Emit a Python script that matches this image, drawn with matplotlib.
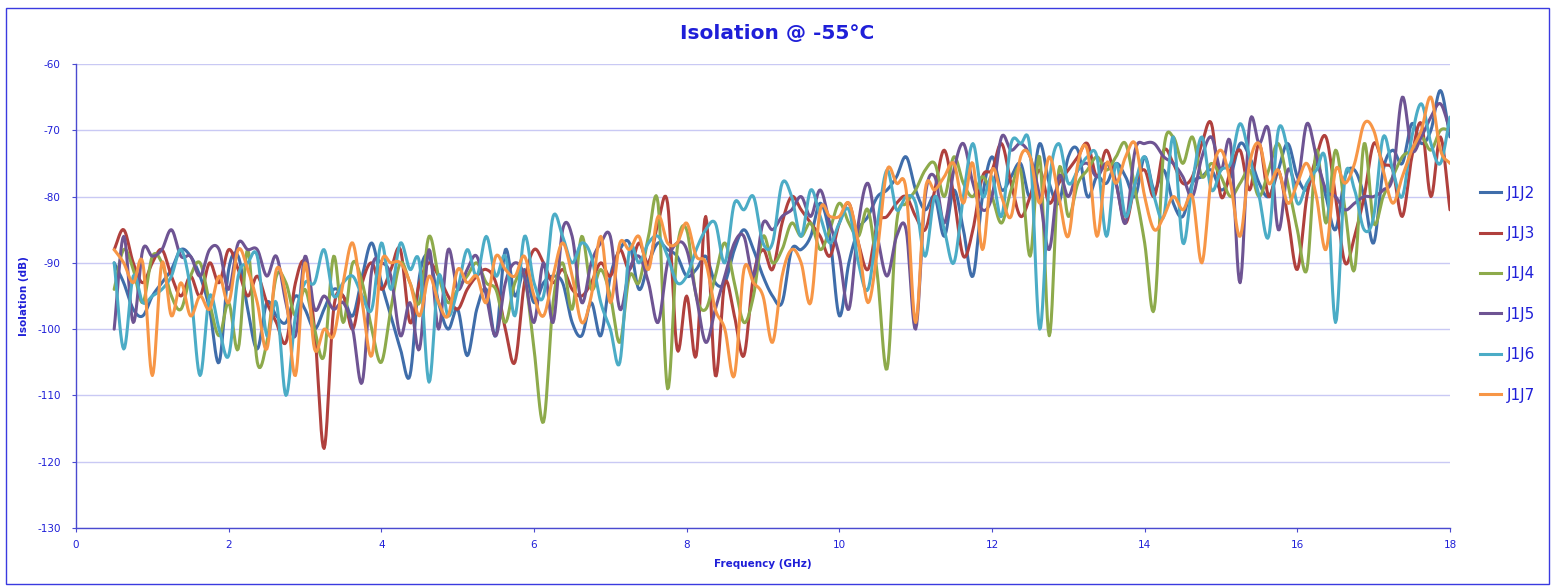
import numpy as np
import matplotlib
matplotlib.use('Agg')
import matplotlib.pyplot as plt
from matplotlib.lines import Line2D
from matplotlib.patches import Rectangle

plt.rcParams['axes.unicode_minus'] = False

# frequency points: 0.5 .. 18.0 GHz, 0.125 GHz step (8 per row)
freq = [0.5 + 0.125 * i for i in range(141)]

j1j2 = [-90, -93, -97, -98, -95, -93, -91, -88,
        -89, -92, -97, -105, -91, -89, -97, -103,
        -96, -98, -99, -95, -97, -100, -97, -94,
        -95, -98, -92, -87, -93, -98, -103, -107,
        -92, -89, -96, -100, -97, -104, -97, -94,
        -101, -88, -95, -91, -96, -93, -92, -93,
        -99, -101, -96, -101, -92, -88, -87, -94,
        -90, -87, -88, -89, -92, -91, -89, -93,
        -93, -88, -85, -88, -92, -95, -96, -88,
        -88, -86, -81, -86, -98, -90, -85, -83,
        -80, -79, -77, -74, -79, -82, -80, -86,
        -79, -85, -92, -80, -74, -79, -77, -75,
        -80, -72, -78, -81, -74, -73, -80, -77,
        -78, -75, -77, -80, -74, -79, -76, -81,
        -83, -78, -77, -76, -79, -77, -72, -74,
        -78, -80, -76, -72, -77, -79, -75, -80,
        -85, -77, -76, -80, -87, -76, -73, -75,
        -69, -72, -70, -64, -71]

j1j3 = [-88, -85, -90, -93, -90, -88, -92, -95,
        -92, -95, -90, -93, -88, -91, -95, -92,
        -96, -99, -102, -93, -90, -100, -118, -97,
        -95, -100, -93, -90, -94, -91, -88, -99,
        -93, -90, -92, -95, -97, -94, -92, -91,
        -93, -100, -105, -93, -88, -90, -93, -91,
        -94, -95, -93, -90, -92, -88, -91, -87,
        -90, -84, -81, -103, -95, -104, -83, -107,
        -93, -98, -104, -92, -88, -91, -84, -80,
        -82, -84, -86, -89, -84, -81, -87, -91,
        -84, -83, -81, -80, -83, -85, -79, -73,
        -80, -89, -85, -77, -76, -72, -78, -83,
        -80, -76, -81, -78, -76, -74, -72, -77,
        -73, -78, -84, -78, -76, -80, -73, -75,
        -78, -77, -72, -69, -80, -76, -73, -79,
        -72, -80, -76, -83, -91, -80, -74, -71,
        -80, -90, -86, -80, -72, -75, -76, -83,
        -74, -69, -80, -71, -82]

j1j4 = [-94, -88, -91, -96, -89, -90, -95, -97,
        -92, -90, -96, -101, -96, -103, -88, -105,
        -102, -92, -93, -98, -94, -100, -104, -89,
        -99, -90, -93, -100, -105, -97, -90, -93,
        -96, -86, -92, -96, -94, -92, -90, -93,
        -94, -99, -93, -92, -103, -114, -96, -90,
        -97, -86, -94, -91, -95, -102, -92, -93,
        -86, -81, -109, -88, -85, -95, -97, -92,
        -87, -93, -99, -95, -86, -90, -88, -84,
        -86, -84, -88, -85, -81, -84, -86, -82,
        -92, -106, -84, -81, -79, -76, -75, -80,
        -74, -78, -80, -77, -80, -84, -79, -76,
        -89, -74, -101, -76, -83, -78, -76, -74,
        -76, -74, -72, -79, -87, -97, -73, -71,
        -75, -71, -77, -75, -77, -80, -78, -76,
        -80, -76, -72, -78, -85, -91, -73, -84,
        -73, -82, -91, -72, -84, -80, -77, -74,
        -73, -71, -73, -70, -70]

j1j5 = [-100, -86, -99, -88, -89, -88, -85, -89,
        -89, -92, -88, -88, -94, -87, -88, -88,
        -92, -89, -96, -101, -89, -97, -95, -97,
        -96, -100, -108, -91, -90, -92, -101, -96,
        -103, -88, -100, -88, -94, -91, -89, -95,
        -101, -93, -90, -92, -99, -90, -99, -85,
        -86, -96, -90, -87, -86, -97, -91, -89,
        -93, -99, -90, -87, -88, -95, -102, -97,
        -92, -87, -86, -92, -84, -85, -83, -82,
        -80, -83, -79, -84, -89, -97, -84, -78,
        -86, -92, -86, -85, -100, -80, -77, -84,
        -76, -72, -78, -82, -80, -71, -73, -72,
        -74, -80, -88, -77, -80, -76, -75, -77,
        -75, -78, -84, -73, -72, -72, -74, -75,
        -77, -80, -74, -71, -76, -72, -93, -69,
        -72, -70, -85, -76, -78, -69, -74, -79,
        -80, -82, -81, -80, -80, -79, -77, -65,
        -73, -71, -68, -66, -70]

j1j6 = [-90, -103, -92, -96, -95, -94, -92, -88,
        -94, -107, -95, -100, -104, -92, -90, -89,
        -101, -96, -110, -98, -93, -93, -88, -95,
        -93, -92, -95, -97, -87, -94, -87, -91,
        -90, -108, -92, -98, -94, -88, -92, -86,
        -92, -89, -98, -86, -93, -95, -83, -86,
        -90, -87, -89, -96, -100, -105, -88, -90,
        -87, -86, -89, -93, -92, -88, -85, -84,
        -90, -81, -82, -80, -87, -87, -78, -80,
        -86, -79, -83, -87, -84, -82, -90, -94,
        -84, -76, -82, -80, -81, -89, -80, -85,
        -90, -80, -72, -80, -77, -83, -72, -72,
        -73, -100, -78, -72, -78, -76, -74, -74,
        -86, -75, -83, -78, -74, -80, -83, -71,
        -87, -78, -71, -79, -76, -75, -69, -74,
        -80, -86, -70, -73, -81, -78, -76, -75,
        -99, -77, -79, -85, -83, -71, -76, -80,
        -71, -66, -72, -75, -68]

j1j7 = [-88, -90, -93, -90, -107, -90, -98, -93,
        -98, -95, -97, -92, -96, -88, -91, -96,
        -103, -91, -95, -107, -90, -103, -100, -101,
        -93, -87, -96, -104, -90, -90, -90, -93,
        -98, -92, -96, -98, -91, -93, -92, -96,
        -89, -91, -92, -89, -95, -98, -92, -87,
        -92, -99, -95, -86, -96, -87, -88, -86,
        -91, -83, -87, -87, -84, -89, -90, -97,
        -100, -107, -91, -93, -95, -102, -92, -88,
        -90, -96, -82, -83, -83, -81, -87, -96,
        -88, -76, -78, -79, -99, -79, -79, -77,
        -75, -81, -75, -88, -76, -80, -83, -74,
        -74, -81, -74, -80, -86, -75, -73, -86,
        -75, -78, -74, -72, -80, -85, -83, -80,
        -82, -80, -90, -77, -73, -78, -86, -75,
        -72, -78, -76, -81, -78, -75, -80, -88,
        -76, -78, -75, -69, -70, -76, -81, -77,
        -73, -70, -65, -73, -75]

series = ['J1J2', 'J1J3', 'J1J4', 'J1J5', 'J1J6', 'J1J7']
values = [j1j2, j1j3, j1j4, j1j5, j1j6, j1j7]
colors = ['#3F6DAA', '#B0403D', '#8DAA4B', '#6E5493', '#4BACC6', '#F79646']

blue = '#1F1FD8'


def smooth(x, y, n=10):
   # catmull-rom curve through the points, like a smoothed line in a spreadsheet
   x = np.asarray(x, float)
   y = np.asarray(y, float)
   px = np.concatenate([[2 * x[0] - x[1]], x, [2 * x[-1] - x[-2]]])
   py = np.concatenate([[2 * y[0] - y[1]], y, [2 * y[-1] - y[-2]]])
   t = np.linspace(0, 1, n, endpoint=False)[:, None]
   def cr(p):
      p0, p1, p2, p3 = p[:-3], p[1:-2], p[2:-1], p[3:]
      return 0.5 * ((2 * p1) + (-p0 + p2) * t + (2 * p0 - 5 * p1 + 4 * p2 - p3) * t ** 2
                    + (-p0 + 3 * p1 - 3 * p2 + p3) * t ** 3)
   sx = cr(px).T.ravel()
   sy = cr(py).T.ravel()
   return np.append(sx, x[-1]), np.append(sy, y[-1])


fig = plt.figure(figsize=(15.54, 5.86), dpi=100)
ax = fig.add_axes([76 / 1554, 1 - 528 / 586, (1450 - 76) / 1554, (528 - 64) / 586])

for name, v, c in zip(series, values, colors):
   sx, sy = smooth(freq, v)
   ax.plot(sx, sy, color=c, lw=2.2, solid_capstyle='round')

ax.set_xlim(0, 18)
ax.set_ylim(-130, -60)
ax.set_xticks(range(0, 19, 2))
ax.set_yticks(range(-130, -59, 10))
ax.grid(axis='y', color='#C9C9F4', lw=1)
ax.set_axisbelow(True)
for s in ['top', 'right']:
   ax.spines[s].set_visible(False)
for s in ['left', 'bottom']:
   ax.spines[s].set_color('#4A4AD0')
   ax.spines[s].set_linewidth(1)
ax.tick_params(colors='#4A4AD0', labelcolor=blue, labelsize=7.5, length=3)
ax.tick_params(axis='x', pad=6)
ax.tick_params(axis='y', pad=8)
ax.set_xlabel('Frequency (GHz)', color=blue, fontsize=7.5, fontweight='bold', labelpad=6)
ax.set_ylabel('Isolation (dB)', color=blue, fontsize=7.5, fontweight='bold', labelpad=6)

fig.text(0.5, 1 - 33 / 586, 'Isolation @ -55°C', ha='center', va='center',
         color=blue, fontsize=14.5, fontweight='bold')

handles = [Line2D([0], [0], color=c, lw=2.2) for c in colors]
leg = fig.legend(handles, series, loc='upper left', bbox_to_anchor=(1466 / 1554, 1 - 172 / 586),
                 frameon=False, fontsize=11, labelspacing=1.66, handlelength=1.4, handletextpad=0.4)
for t in leg.get_texts():
   t.set_color(blue)

fig.patches.append(Rectangle((0.004, 0.004), 0.993, 0.982, transform=fig.transFigure,
                             fill=False, edgecolor='#3A3AE0', lw=1))

fig.savefig('out.png', dpi=100)
